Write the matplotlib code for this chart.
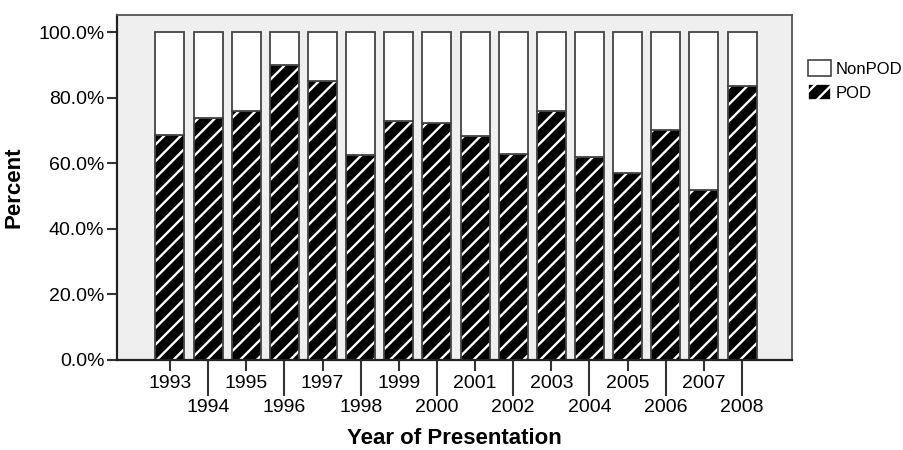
import matplotlib.pyplot as plt
import numpy as np

plt.rcParams['font.family'] = ['Liberation Sans', 'DejaVu Sans']
plt.rcParams['hatch.linewidth'] = 1.7

years = ['1993', '1994', '1995', '1996', '1997', '1998', '1999', '2000',
         '2001', '2002', '2003', '2004', '2005', '2006', '2007', '2008']
pod = [68.6, 73.9, 75.8, 89.8, 85.1, 62.6, 72.9, 72.4,
       68.4, 62.8, 76.0, 62.0, 57.0, 70.2, 51.9, 83.5]
nonpod = [100 - p for p in pod]

x = np.arange(len(years))
w = 0.76

fig = plt.figure(figsize=(9.04, 4.5), dpi=100)
ax = fig.add_axes([0.1294, 0.2, 0.7467, 0.7667])
ax.set_facecolor('#efefef')

# POD: black with white diagonal stripes
ax.bar(x, pod, w, color='black', edgecolor='white', hatch='//', linewidth=0)
ax.bar(x, pod, w, fill=False, edgecolor='#444444', linewidth=1.3)
# NonPOD on top
ax.bar(x, nonpod, w, bottom=pod, color='white', edgecolor='#444444', linewidth=1.3)

ax.set_xlim(-1.39, 16.31)
ax.set_ylim(0, 105.2)

ax.set_yticks([0, 20, 40, 60, 80, 100])
ax.set_yticklabels(['0.0%', '20.0%', '40.0%', '60.0%', '80.0%', '100.0%'], fontsize=14)
ax.tick_params(axis='y', length=7, width=1.5, color='#333333', pad=2)

# staggered year labels
ax.set_xticks(x[::2])
ax.set_xticklabels(years[::2], fontsize=14)
ax.set_xticks(x[1::2], minor=True)
ax.set_xticklabels(years[1::2], minor=True, fontsize=14)
ax.tick_params(axis='x', which='major', length=8, width=1.5, color='#333333', pad=3)
ax.tick_params(axis='x', which='minor', length=26, width=1.5, color='#333333', pad=2)

for s in ax.spines.values():
    s.set_color('#555555')
    s.set_linewidth(1.3)
ax.spines['left'].set_color('#222222')
ax.spines['bottom'].set_color('#222222')
ax.spines['left'].set_linewidth(1.6)
ax.spines['bottom'].set_linewidth(1.6)

ax.set_ylabel('Percent', fontsize=16, fontweight='bold', labelpad=10)
ax.set_xlabel('Year of Presentation', fontsize=16, fontweight='bold', labelpad=9)

h1 = plt.Rectangle((0, 0), 1, 1, facecolor='white', edgecolor='#444444', linewidth=1.2)
h2 = plt.Rectangle((0, 0), 1, 1, facecolor='black', edgecolor='white', hatch='//', linewidth=1.2)
leg = fig.legend([h1, h2], ['NonPOD', 'POD'], loc='upper left',
                 bbox_to_anchor=(0.894, 0.866), frameon=False, fontsize=12,
                 handlelength=1.35, handleheight=1.05, handletextpad=0.3,
                 labelspacing=0.45, borderaxespad=0, borderpad=0)

fig.savefig('out.png', dpi=100, facecolor='white')
